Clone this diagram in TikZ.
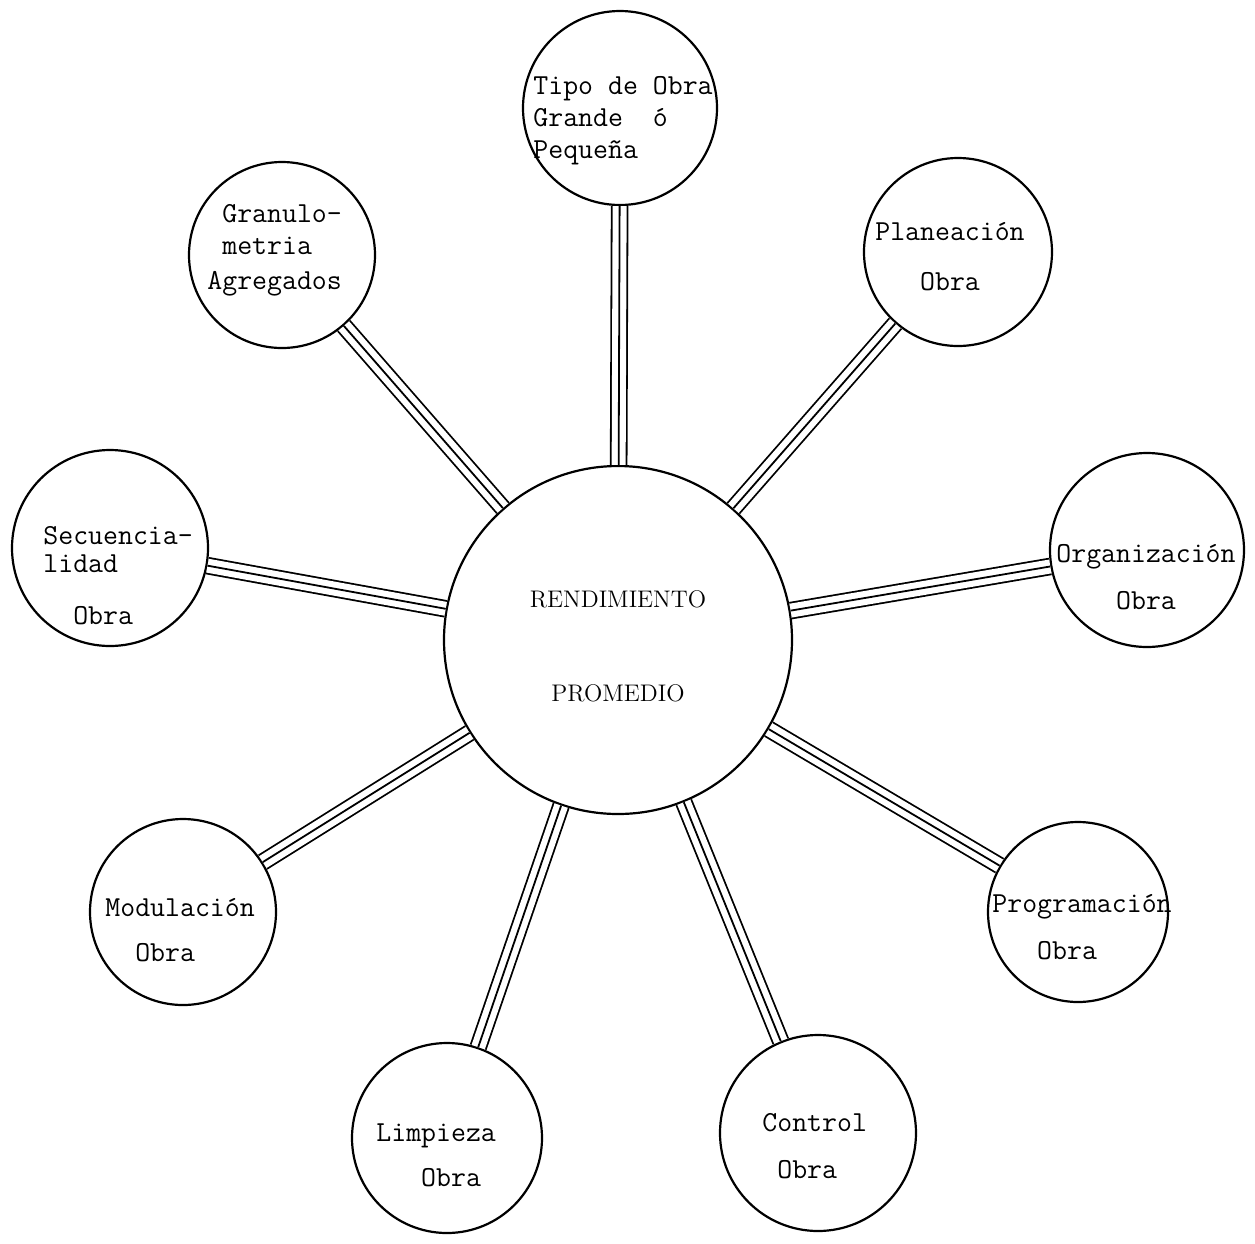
\documentclass[tikz,border=0pt]{standalone}
\usepackage{amsmath}
\usepackage{tikz}

\begin{document}
\begin{tikzpicture}[
    x=0.5pt, y=-0.5pt,
    hub/.style={circle, draw, line width=1.1pt, minimum size=174pt, inner sep=0pt, align=center, font=\fontsize{12}{14}\selectfont},
    factor/.style={circle, draw, line width=1.1pt, inner sep=0pt},
    words/.style={inner sep=0pt, font=\fontsize{14.5}{16}\selectfont\ttfamily},
    link/.style={double, double distance=7pt, line width=0.9pt},
    linkmid/.style={line width=0.9pt}
]
    \useasboundingbox (0,0) rectangle (1255,1244);
    % Central circle
    \node[hub, text height=61pt, text depth=0pt] (rend) at (618,640) {RENDIMIENTO\\[33pt]PROMEDIO};
    % Circles round it
    \node[factor, minimum size=97pt] (tipo) at (620,108) {};
    \node[factor, minimum size=93pt] (gran) at (282,255) {};
    \node[factor, minimum size=94pt] (plan) at (958,252) {};
    \node[factor, minimum size=98pt] (sec) at (110,548) {};
    \node[factor, minimum size=97pt] (org) at (1147,550) {};
    \node[factor, minimum size=93pt] (mod) at (183,912) {};
    \node[factor, minimum size=90pt] (prog) at (1078,912) {};
    \node[factor, minimum size=95pt] (limp) at (447,1138) {};
    \node[factor, minimum size=98pt] (ctrl) at (818,1133) {};
    % Their texts (placed by the baseline of the last line)
    \node[words, align=left, anchor=base west] (tipotxt) at (533,158) {Tipo de Obra\\Grande\hphantom{OO}ó\\Pequeña};
    \node[words, align=left, anchor=base west] (grantxt) at (207,289) {\hphantom{O}Granulo-\\\hphantom{O}metria\\[1.5pt]Agregados};
    \node[words, align=center, anchor=base] (plantxt) at (950,290) {Planeación\\[9pt]Obra};
    \node[words, align=left, anchor=base west] (sectxt) at (43,624) {Secuencia-\\[-2pt]lidad\\[10pt]\hphantom{OO}Obra};
    \node[words, align=center, anchor=base] (orgtxt) at (1146,609) {Organización\\[7.5pt]Obra};
    \node[words, align=left, anchor=base west] (modtxt) at (105,961) {Modulación\\[6.5pt]\hphantom{OO}Obra};
    \node[words, align=left, anchor=base west] (progtxt) at (992,959) {Programación\\[7.5pt]\hphantom{OOO}Obra};
    \node[words, align=left, anchor=base west] (limptxt) at (376,1186) {Limpieza\\[6.5pt]\hphantom{OOO}Obra};
    \node[words, align=left, anchor=base west] (ctrltxt) at (762,1178) {Control\\[7.5pt]\hphantom{O}Obra};
    % Connect the circles to the centre
    \foreach \n in {tipo, gran, plan, sec, org, mod, prog, limp, ctrl} {
        \draw[link] (rend) -- (\n);
        \draw[linkmid] (rend) -- (\n);
    }
\end{tikzpicture}
\end{document}
